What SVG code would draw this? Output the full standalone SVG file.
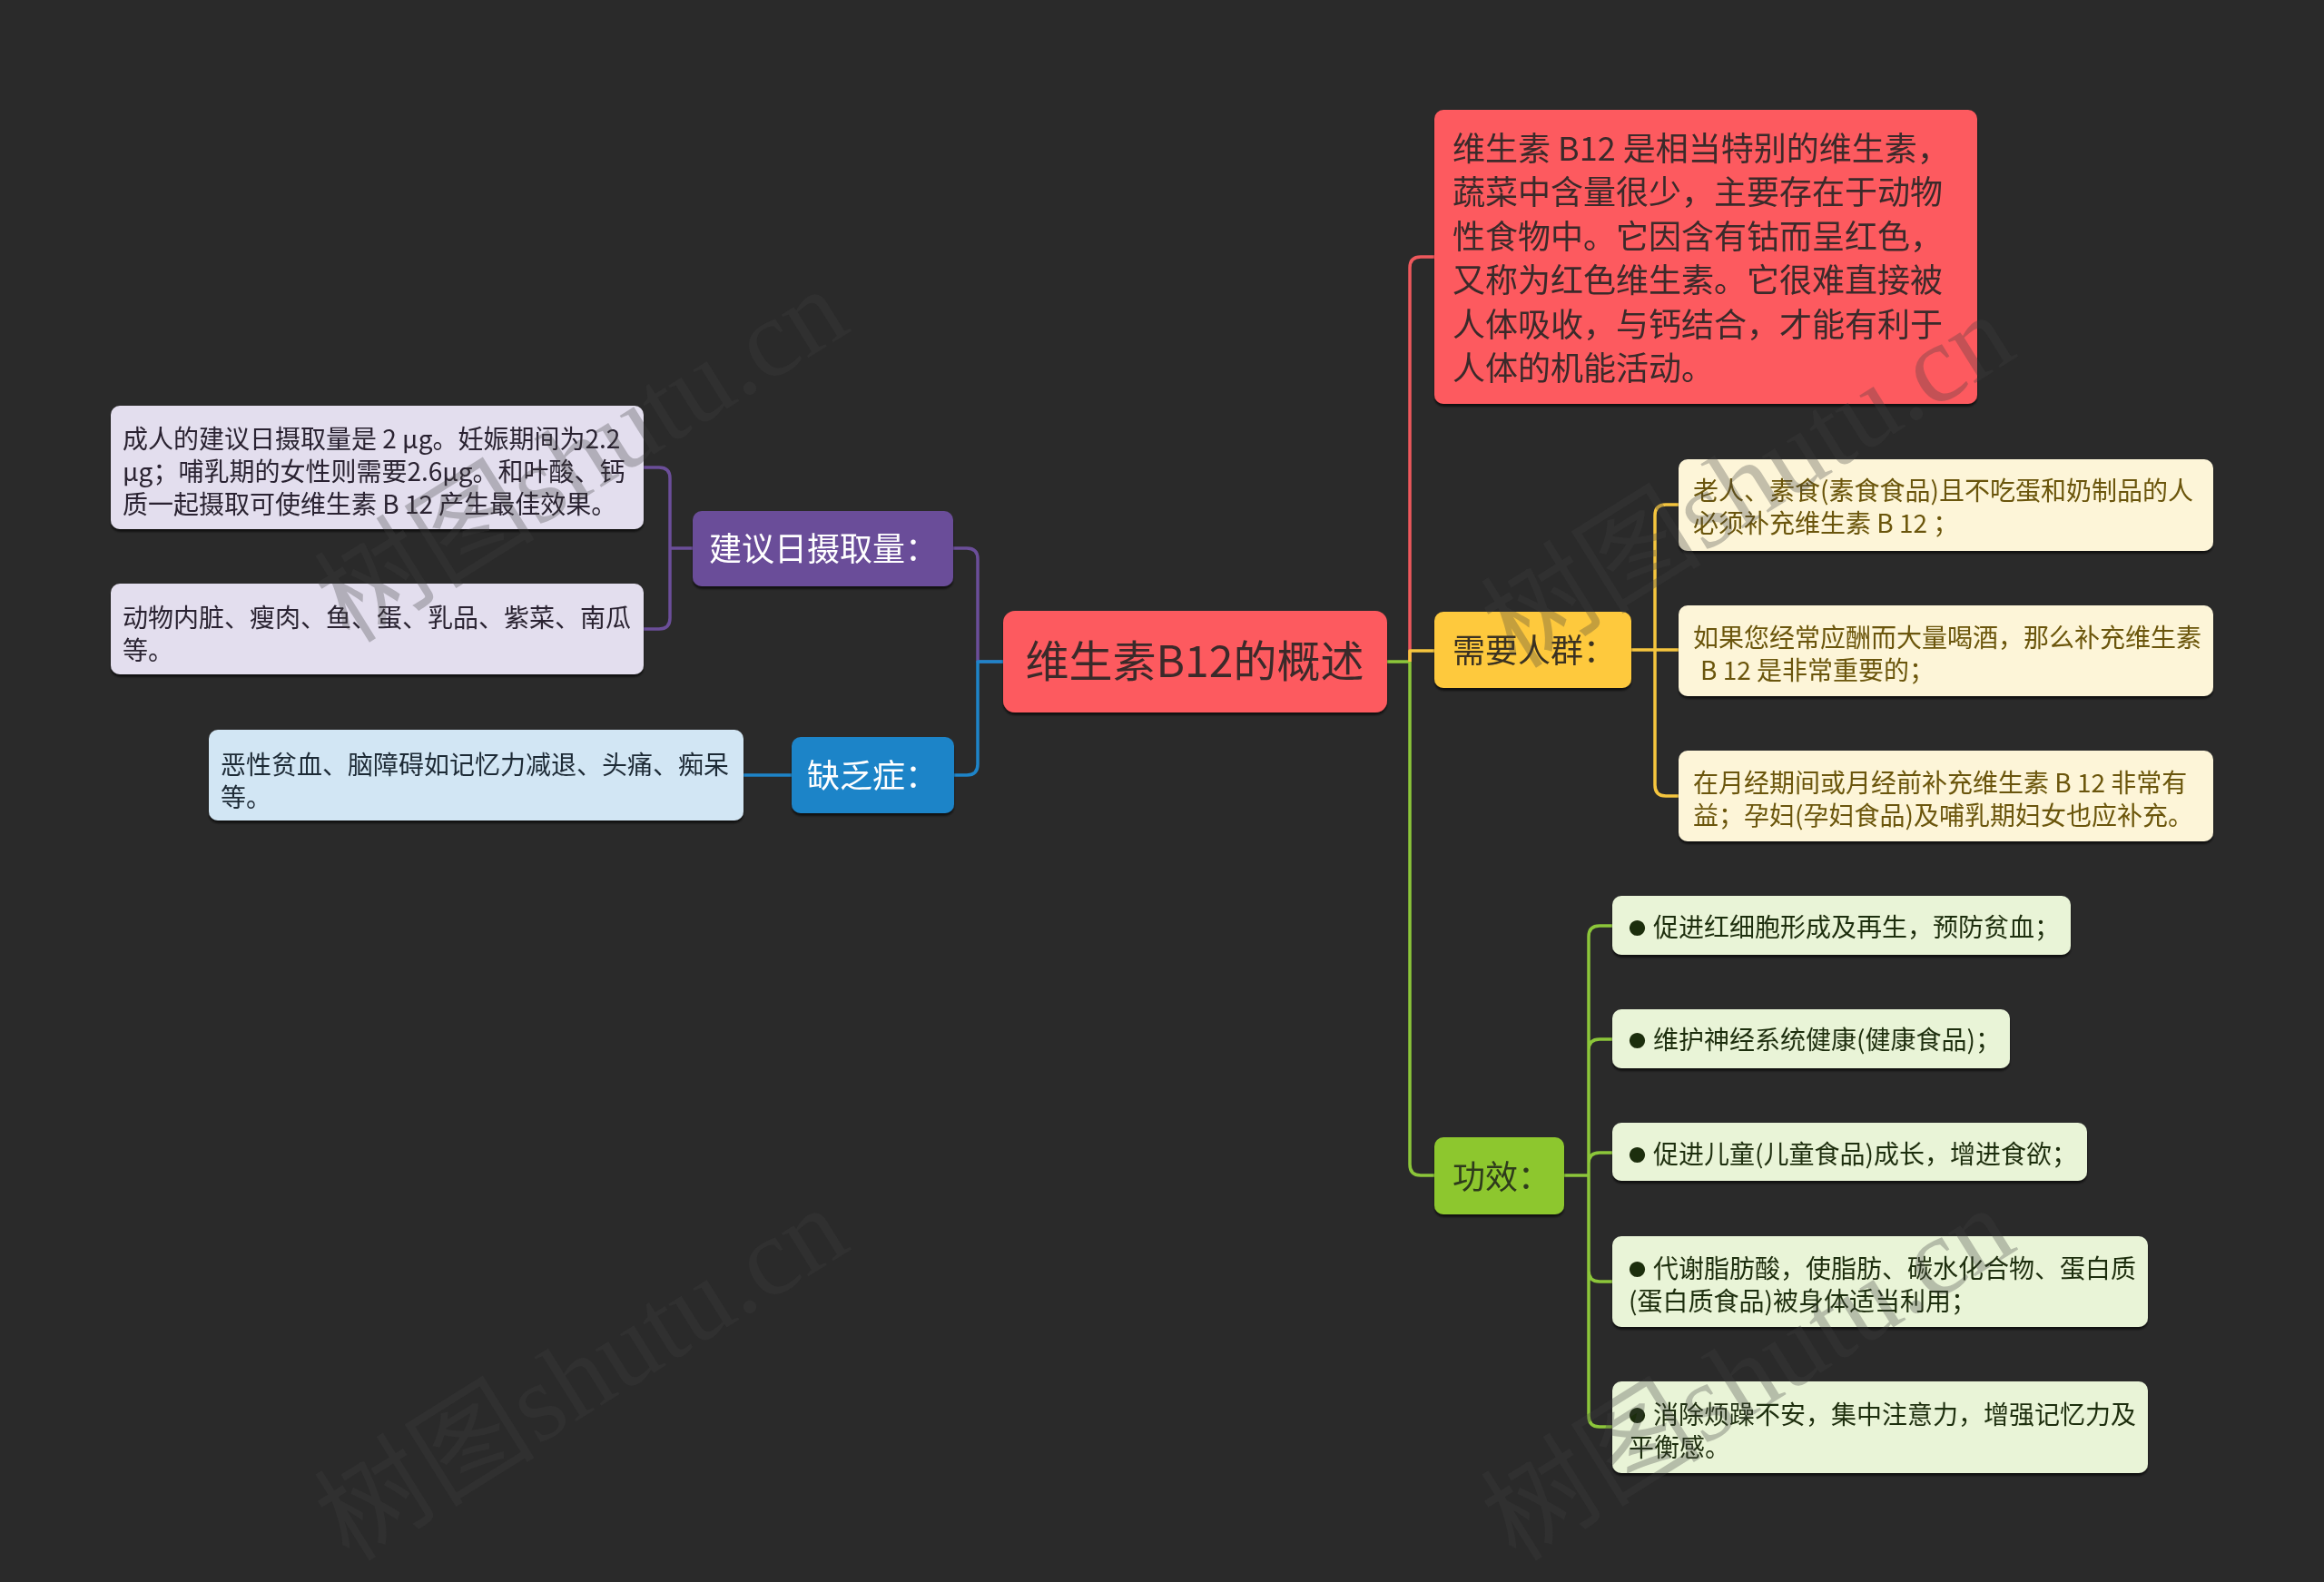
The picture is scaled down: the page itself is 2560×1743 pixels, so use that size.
<svg xmlns="http://www.w3.org/2000/svg" width="2560" height="1743" viewBox="0 0 2560 1743">
<defs>
<filter id="sh" x="-5%" y="-10%" width="110%" height="130%">
<feDropShadow dx="0" dy="3" stdDeviation="1.2" flood-color="#000" flood-opacity="0.6"/>
</filter>
<style>
text{font-family:"Noto Sans CJK SC","Noto Sans",sans-serif;}
.c{fill:none;stroke-width:3.5;stroke-linejoin:round;stroke-linecap:butt;}
.red{stroke:#EE585C;}
.yel{stroke:#F5C53E;}
.grn{stroke:#8CC63A;}
.pur{stroke:#6B4E99;}
.blu{stroke:#1E84C8;}
.n{filter:url(#sh);}
.t48{font-size:48px;}
.t36{font-size:36px;}
.t28{font-size:28px;}
.dk{fill:#3b2a2b;}
.wh{fill:#ffffff;}
.ptx{fill:#2a2430;}
.btx{fill:#1e2a36;}
.ytx{fill:#6b5507;}
.gtx{fill:#1f2d0e;}
.bul{font-size:19px;}
.wm{font-family:"Liberation Serif","Noto Sans CJK SC",serif;font-size:122px;fill:#404040;fill-opacity:0.3;}
</style>
</defs>
<rect x="0" y="0" width="2560" height="1743" fill="#2a2a2a"/>

<g id="connectors">
<path class="c grn" d="M1528,729 H1553 V1283 Q1553,1295 1565,1295 H1580"/>
<path class="c red" d="M1553,729 V295 Q1553,283 1565,283 H1580"/>
<path class="c yel" d="M1553,729 V717 H1580"/>
<path class="c pur" d="M1105,729 H1077 V616 Q1077,604 1065,604 H1050"/>
<path class="c blu" d="M1105,729 H1077 V842 Q1077,854 1065,854 H1051"/>
<path class="c pur" d="M763,604 H738 M738,604 V527 Q738,515 726,515 H709 M738,604 V681 Q738,693 726,693 H709"/>
<path class="c blu" d="M872,854 H819"/>
<path class="c yel" d="M1797,716 H1823 M1823,716 V568 Q1823,556 1835,556 H1849 M1823,716 H1849 M1823,716 V865 Q1823,877 1835,877 H1849"/>
<path class="c grn" d="M1723,1295 H1750 M1750,1295 V1032 Q1750,1020 1762,1020 H1776 M1750,1295 V1157 Q1750,1145 1762,1145 H1776 M1750,1295 V1282 Q1750,1270 1762,1270 H1776 M1750,1295 V1400 Q1750,1412 1762,1412 H1776 M1750,1295 V1560 Q1750,1572 1762,1572 H1776"/>
</g>

<g id="root" class="n">
<rect x="1105" y="673" width="423" height="112" rx="13" fill="#FD5A5E"/>
<text class="t48 dk" x="1316" y="746" text-anchor="middle">维生素B12的概述</text>
</g>

<g id="desc" class="n">
<rect x="1580" y="121" width="598" height="324" rx="10" fill="#FD5A5E"/>
<text class="t36 dk">
<tspan x="1600" y="177">维生素 B12 是相当特别的维生素，</tspan>
<tspan x="1600" y="225.4">蔬菜中含量很少，主要存在于动物</tspan>
<tspan x="1600" y="273.8">性食物中。它因含有钴而呈红色，</tspan>
<tspan x="1600" y="322.2">又称为红色维生素。它很难直接被</tspan>
<tspan x="1600" y="370.6">人体吸收，与钙结合，才能有利于</tspan>
<tspan x="1600" y="419">人体的机能活动。</tspan>
</text>
</g>

<g id="need" class="n">
<rect x="1580" y="674" width="217" height="84" rx="10" fill="#FEC93C"/>
<text class="t36" x="1600" y="730" fill="#3a3120">需要人群：</text>
</g>

<g id="effect" class="n">
<rect x="1580" y="1253" width="143" height="85" rx="10" fill="#8DC72F"/>
<text class="t36" x="1600" y="1310" fill="#2d3a1a">功效：</text>
</g>

<g id="intake" class="n">
<rect x="763" y="563" width="287" height="83" rx="10" fill="#6B4E99"/>
<text class="t36 wh" x="781" y="618">建议日摄取量：</text>
</g>

<g id="lack" class="n">
<rect x="872" y="812" width="179" height="84" rx="10" fill="#1E84C8"/>
<text class="t36 wh" x="889" y="868">缺乏症：</text>
</g>

<g id="p1" class="n">
<rect x="122" y="447" width="587" height="136" rx="10" fill="#E3DEEE"/>
<text class="t28 ptx">
<tspan x="135" y="494">成人的建议日摄取量是 2 μg。妊娠期间为2.2</tspan>
<tspan x="135" y="530">μg；哺乳期的女性则需要2.6μg。和叶酸、钙</tspan>
<tspan x="135" y="566">质一起摄取可使维生素 B 12 产生最佳效果。</tspan>
</text>
</g>

<g id="p2" class="n">
<rect x="122" y="643" width="587" height="100" rx="10" fill="#E3DEEE"/>
<text class="t28 ptx">
<tspan x="135" y="691">动物内脏、瘦肉、鱼、蛋、乳品、紫菜、南瓜</tspan>
<tspan x="135" y="727">等。</tspan>
</text>
</g>

<g id="b1" class="n">
<rect x="230" y="804" width="589" height="100" rx="10" fill="#D2E6F4"/>
<text class="t28 btx">
<tspan x="243" y="853">恶性贫血、脑障碍如记忆力减退、头痛、痴呆</tspan>
<tspan x="243" y="889">等。</tspan>
</text>
</g>

<g id="y1" class="n">
<rect x="1849" y="506" width="589" height="101" rx="10" fill="#FDF5D8"/>
<text class="t28 ytx">
<tspan x="1865" y="551">老人、素食(素食食品)且不吃蛋和奶制品的人</tspan>
<tspan x="1865" y="587">必须补充维生素 B 12 ；</tspan>
</text>
</g>

<g id="y2" class="n">
<rect x="1849" y="667" width="589" height="100" rx="10" fill="#FDF5D8"/>
<text class="t28 ytx">
<tspan x="1865" y="713">如果您经常应酬而大量喝酒，那么补充维生素</tspan>
<tspan x="1873" y="749">B 12 是非常重要的；</tspan>
</text>
</g>

<g id="y3" class="n">
<rect x="1849" y="827" width="589" height="100" rx="10" fill="#FDF5D8"/>
<text class="t28 ytx">
<tspan x="1865" y="873">在月经期间或月经前补充维生素 B 12 非常有</tspan>
<tspan x="1865" y="909">益；孕妇(孕妇食品)及哺乳期妇女也应补充。</tspan>
</text>
</g>

<g id="g1" class="n">
<rect x="1776" y="987" width="505" height="65" rx="10" fill="#E9F4D7"/>
<text class="t28 gtx"><tspan class="bul" x="1794" y="1030">●</tspan><tspan x="1821" y="1032">促进红细胞形成及再生，预防贫血；</tspan></text>
</g>

<g id="g2" class="n">
<rect x="1776" y="1112" width="438" height="65" rx="10" fill="#E9F4D7"/>
<text class="t28 gtx"><tspan class="bul" x="1794" y="1154">●</tspan><tspan x="1821" y="1156">维护神经系统健康(健康食品)；</tspan></text>
</g>

<g id="g3" class="n">
<rect x="1776" y="1237" width="523" height="64" rx="10" fill="#E9F4D7"/>
<text class="t28 gtx"><tspan class="bul" x="1794" y="1280">●</tspan><tspan x="1821" y="1282">促进儿童(儿童食品)成长，增进食欲；</tspan></text>
</g>

<g id="g4" class="n">
<rect x="1776" y="1362" width="590" height="100" rx="10" fill="#E9F4D7"/>
<text class="t28 gtx"><tspan class="bul" x="1794" y="1406">●</tspan><tspan x="1821" y="1408">代谢脂肪酸，使脂肪、碳水化合物、蛋白质</tspan><tspan x="1794" y="1444">(蛋白质食品)被身体适当利用；</tspan></text>
</g>

<g id="g5" class="n">
<rect x="1776" y="1522" width="590" height="101" rx="10" fill="#E9F4D7"/>
<text class="t28 gtx"><tspan class="bul" x="1794" y="1567">●</tspan><tspan x="1821" y="1569">消除烦躁不安，集中注意力，增强记忆力及</tspan><tspan x="1794" y="1605">平衡感。</tspan></text>
</g>

<g id="watermarks">
<text class="wm" transform="translate(385,710) rotate(-32)">树图shutu.cn</text>
<text class="wm" transform="translate(1670,738) rotate(-32)">树图shutu.cn</text>
<text class="wm" transform="translate(385,1722) rotate(-32)">树图shutu.cn</text>
<text class="wm" transform="translate(1670,1722) rotate(-32)">树图shutu.cn</text>
</g>
</svg>
